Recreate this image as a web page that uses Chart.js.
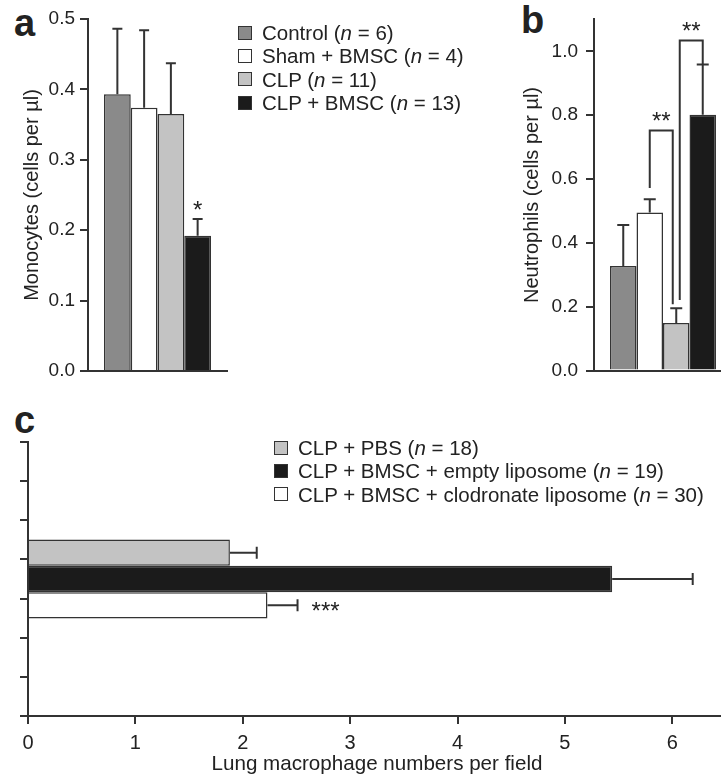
<!DOCTYPE html>
<html>
<head>
<meta charset="utf-8">
<script src="https://cdn.jsdelivr.net/npm/chart.js@4.4.0/dist/chart.umd.min.js"></script>
<style>
  html, body { margin: 0; padding: 0; background: #fff; overflow: hidden; }
  body { width: 721px; height: 781px; position: relative; font-family: "Liberation Sans", Arial, sans-serif; color: #222; }
  canvas { position: absolute; }
  .letter { position: absolute; font-weight: bold; font-size: 38px; line-height: 1; }
  .legend { position: absolute; font-size: 20.5px; line-height: 23.4px; white-space: nowrap; }
  .legend .row { display: flex; align-items: center; height: 23.4px; }
  .legend .box { width: 12px; height: 12px; border: 1px solid #333; margin-right: 10px; flex: none; }
</style>
</head>
<body>
<div class="letter" style="left:14px; top:4px">a</div>
<div class="letter" style="left:521px; top:1px">b</div>
<div class="letter" style="left:14px; top:401px">c</div>

<canvas id="chartA" width="240" height="390" style="left:0; top:0"></canvas>
<canvas id="chartB" width="232" height="390" style="left:500px; top:0"></canvas>
<canvas id="chartC" width="726" height="391" style="left:0; top:390px"></canvas>

<div class="legend" id="legendA" style="left:238px; top:21px"></div>
<div class="legend" id="legendC" style="left:274px; top:436px"></div>

<script>
// Panels a and b: groups
const groupsAB = ['Control', 'Sham + BMSC', 'CLP', 'CLP + BMSC'];
const nAB = [6, 4, 11, 13];
const colorsAB = ['#8a8a8a', '#ffffff', '#c3c3c3', '#1b1b1b'];

// a: monocytes
const monocytes = [0.393, 0.374, 0.365, 0.192];
const monocytesErr = [0.486, 0.484, 0.437, 0.216];
const monocytesSig = ['', '', '', '*'];
const monocyteTicks = [0.0, 0.1, 0.2, 0.3, 0.4, 0.5];

// b: neutrophils
const neutrophils = [0.328, 0.495, 0.149, 0.801];
const neutrophilsErr = [0.456, 0.537, 0.195, 0.959];
const neutrophilTicks = [0.0, 0.2, 0.4, 0.6, 0.8, 1.0];
// bracket: from bar, to bar, top, where each leg stops, label
const neutrophilBrackets = [
    { from: 1, to: 2, top: 0.752, fromEnd: 0.572, toEnd: 0.208, label: '**' },
    { from: 2, to: 3, top: 1.034, fromEnd: 0.221, toEnd: 0.959, label: '**' }
];

// c: lung macrophages
const groupsC = ['CLP + PBS', 'CLP + BMSC + empty liposome', 'CLP + BMSC + clodronate liposome'];
const nC = [18, 19, 30];
const colorsC = ['#c3c3c3', '#1b1b1b', '#ffffff'];
const macrophages = [1.88, 5.44, 2.23];
const macrophagesErr = [2.13, 6.19, 2.51];
const macrophagesSig = ['', '', '***'];
const macrophageTicks = [0, 1, 2, 3, 4, 5, 6];
const macrophageSlots = [0, 1, 2, 3, 4, 5, 6, 7];

const ink = '#333';
const textInk = '#222';
const starSize = 24;

function drawStars(ctx, text, x, cy, align) {
    ctx.save();
    ctx.fillStyle = textInk;
    ctx.font = starSize + 'px "Liberation Sans", Arial, sans-serif';
    ctx.textAlign = align || 'center';
    ctx.textBaseline = 'alphabetic';
    ctx.fillText(text, x, cy + starSize * 0.58);
    ctx.restore();
}

// Error bars (upper only) + significance marks
const errorBarPlugin = {
    id: 'errorBars',
    afterDatasetsDraw(chart, args, opts) {
        if (!opts.tops) return;
        const ctx = chart.ctx;
        const horizontal = chart.options.indexAxis === 'y';
        const vScale = horizontal ? chart.scales.x : chart.scales.y;
        ctx.save();
        ctx.strokeStyle = ink;
        ctx.lineWidth = 2;
        chart.data.datasets.forEach((ds, i) => {
            const bar = chart.getDatasetMeta(i).data[0];
            const end = vScale.getPixelForValue(opts.tops[i]);
            const half = opts.cap / 2;
            ctx.beginPath();
            if (horizontal) {
                ctx.moveTo(bar.x, bar.y);
                ctx.lineTo(end, bar.y);
                ctx.moveTo(end, bar.y - half);
                ctx.lineTo(end, bar.y + half);
            } else {
                ctx.moveTo(bar.x, bar.y);
                ctx.lineTo(bar.x, end);
                ctx.moveTo(bar.x - half, end);
                ctx.lineTo(bar.x + half, end);
            }
            ctx.stroke();
            const sig = opts.labels && opts.labels[i];
            if (sig) {
                if (horizontal) drawStars(ctx, sig, end + 14, bar.y, 'left');
                else drawStars(ctx, sig, bar.x, end - 15);
            }
        });
        ctx.restore();
    }
};

// Significance brackets between bars
const bracketPlugin = {
    id: 'brackets',
    afterDatasetsDraw(chart, args, opts) {
        if (!opts.items) return;
        const ctx = chart.ctx;
        const y = chart.scales.y;
        const uses = {};
        opts.items.forEach(b => {
            uses[b.from] = (uses[b.from] || 0) + 1;
            uses[b.to] = (uses[b.to] || 0) + 1;
        });
        const nudge = 3.5;
        ctx.save();
        ctx.strokeStyle = ink;
        ctx.lineWidth = 2;
        opts.items.forEach(b => {
            let x1 = chart.getDatasetMeta(b.from).data[0].x;
            let x2 = chart.getDatasetMeta(b.to).data[0].x;
            if (uses[b.from] > 1) x1 += nudge;
            if (uses[b.to] > 1) x2 -= nudge;
            const top = y.getPixelForValue(b.top);
            ctx.beginPath();
            ctx.moveTo(x1, y.getPixelForValue(b.fromEnd));
            ctx.lineTo(x1, top);
            ctx.lineTo(x2, top);
            ctx.lineTo(x2, y.getPixelForValue(b.toEnd));
            ctx.stroke();
            drawStars(ctx, b.label, (x1 + x2) / 2, top - 15);
        });
        ctx.restore();
    }
};

Chart.register(errorBarPlugin, bracketPlugin);
Chart.defaults.font.family = '"Liberation Sans", Arial, sans-serif';
Chart.defaults.color = textInk;
Chart.defaults.animation = false;
Chart.defaults.responsive = false;
Chart.defaults.plugins.legend.display = false;
Chart.defaults.plugins.tooltip.enabled = false;

function barSets(groups, values, colors, catPct) {
    return groups.map((g, i) => ({
        label: g,
        data: [values[i]],
        backgroundColor: colors[i],
        borderColor: ink,
        borderWidth: 1.5,
        barPercentage: 1,
        categoryPercentage: catPct
    }));
}

function valueAxis(ticks, min, max, title, width, pad) {
    return {
        min: min,
        max: max,
        afterBuildTicks: s => { s.ticks = ticks.map(v => ({ value: v })); },
        ticks: { padding: pad, color: textInk, font: { size: 19 }, callback: v => v.toFixed(1) },
        grid: { drawOnChartArea: false, tickLength: 8, color: ink, lineWidth: 2 },
        border: { color: ink, width: 2 },
        title: { display: true, text: title, color: textInk, font: { size: 20 }, padding: { top: 20, bottom: 0 } },
        afterFit: s => { s.width = width; }
    };
}

const flatAxis = {
    ticks: { display: false },
    grid: { display: false },
    border: { color: ink, width: 2 },
    afterFit: s => { s.height = 0; }
};

// Panel a
new Chart(document.getElementById('chartA'), {
    type: 'bar',
    data: { labels: ['Monocytes'], datasets: barSets(groupsAB, monocytes, colorsAB, 0.77) },
    options: {
        layout: { padding: { left: 0, top: 19, right: 13, bottom: 19 } },
        scales: {
            x: flatAxis,
            y: valueAxis(monocyteTicks, 0, 0.5, 'Monocytes (cells per µl)', 88, 5)
        },
        plugins: { errorBars: { tops: monocytesErr, labels: monocytesSig, cap: 10 } }
    }
});

// Panel b
new Chart(document.getElementById('chartB'), {
    type: 'bar',
    data: { labels: ['Neutrophils'], datasets: barSets(groupsAB, neutrophils, colorsAB, 0.768) },
    options: {
        layout: { padding: { left: 0, top: 17, right: 0, bottom: 14 } },
        scales: {
            x: flatAxis,
            y: valueAxis(neutrophilTicks, 0, 1.1, 'Neutrophils (cells per µl)', 94, 8)
        },
        plugins: {
            errorBars: { tops: neutrophilsErr, cap: 12 },
            brackets: { items: neutrophilBrackets }
        }
    }
});

// Panel c
new Chart(document.getElementById('chartC'), {
    type: 'bar',
    data: { labels: ['Lung macrophages'], datasets: barSets(groupsC, macrophages, colorsC, 0.288) },
    options: {
        indexAxis: 'y',
        layout: { padding: { left: 0, top: 52, right: 0, bottom: 0 } },
        scales: {
            y: { type: 'category', display: false },
            slots: {
                type: 'linear',
                position: 'left',
                min: 0,
                max: 7,
                offset: false,
                afterBuildTicks: s => { s.ticks = macrophageSlots.map(v => ({ value: v })); },
                ticks: { display: false },
                grid: { offset: false, drawOnChartArea: false, tickLength: 8, color: ink, lineWidth: 2 },
                border: { color: ink, width: 2 },
                afterFit: s => { s.width = 28; }
            },
            x: {
                type: 'linear',
                min: 0,
                max: 6.5,
                afterBuildTicks: s => { s.ticks = macrophageTicks.map(v => ({ value: v })); },
                ticks: { padding: 7, color: textInk, font: { size: 20 } },
                grid: { drawOnChartArea: false, tickLength: 8, color: ink, lineWidth: 2 },
                border: { color: ink, width: 2 },
                title: { display: true, text: 'Lung macrophage numbers per field', color: textInk, font: { size: 20.6 }, padding: { top: 4, bottom: 4 } },
                afterFit: s => { s.height = 65; }
            }
        },
        plugins: { errorBars: { tops: macrophagesErr, labels: macrophagesSig, cap: 12 } }
    }
});

// HTML legends (italic n)
function buildLegend(id, groups, ns, colors) {
    const el = document.getElementById(id);
    groups.forEach((g, i) => {
        const row = document.createElement('div');
        row.className = 'row';
        const box = document.createElement('span');
        box.className = 'box';
        box.style.background = colors[i];
        const txt = document.createElement('span');
        txt.innerHTML = g + ' (<i>n</i> = ' + ns[i] + ')';
        row.appendChild(box);
        row.appendChild(txt);
        el.appendChild(row);
    });
}
buildLegend('legendA', groupsAB, nAB, colorsAB);
buildLegend('legendC', groupsC, nC, colorsC);
</script>
</body>
</html>
